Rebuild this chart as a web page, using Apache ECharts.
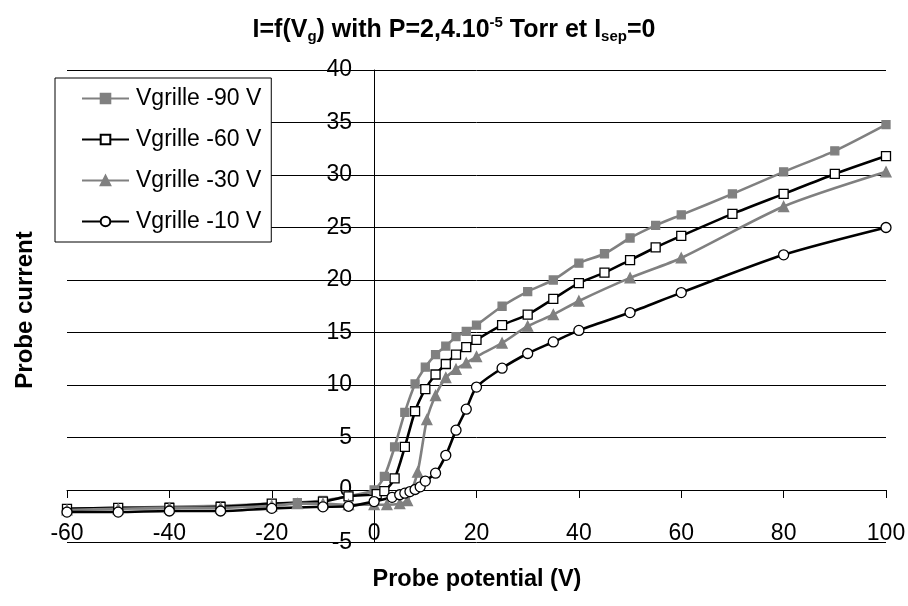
<!DOCTYPE html>
<html>
<head>
<meta charset="utf-8">
<script src="https://cdn.jsdelivr.net/npm/echarts@6/dist/echarts.min.js"></script>
<style>
html,body{margin:0;padding:0;background:#fff;}
#chart{width:908px;height:606px;}
</style>
</head>
<body>
<div id="chart"></div>
<script>
// ---- data ----
var seriesNames = ['Vgrille -90 V', 'Vgrille -60 V', 'Vgrille -30 V', 'Vgrille -10 V'];

var x90 = [-60,-50,-40,-30,-20,-15,-10,-5,0,2,4,6,8,10,12,14,16,18,20,25,30,35,40,45,50,55,60,70,80,90,100];
var y90 = [-1.8,-1.7,-1.6,-1.5,-1.3,-1.2,-1.0,-0.6,0.0,1.3,4.1,7.4,10.1,11.7,12.9,13.7,14.6,15.1,15.7,17.5,18.9,20.0,21.6,22.5,24.0,25.2,26.2,28.2,30.3,32.3,34.8];

var x60 = [-60,-50,-40,-30,-20,-10,-5,0.5,2,4,6,8,10,12,14,16,18,20,25,30,35,40,45,50,55,60,70,80,90,100];
var y60 = [-1.8,-1.7,-1.7,-1.6,-1.3,-1.1,-0.6,-0.4,-0.1,1.1,4.1,7.5,9.6,11.0,12.0,12.9,13.6,14.3,15.7,16.7,18.2,19.7,20.7,21.9,23.1,24.2,26.3,28.2,30.1,31.8];

var x30 = [-60,-50,-40,-30,-20,-15,-10,-5,0,2.5,5,6.5,8.5,10.3,12,14,16,18,20,25,30,35,40,50,60,80,100];
var y30 = [-1.9,-1.8,-1.7,-1.7,-1.5,-1.3,-1.3,-1.4,-1.4,-1.4,-1.3,-1.0,1.7,6.7,9.0,10.7,11.5,12.1,12.7,14.0,15.6,16.7,18.0,20.2,22.1,27.0,30.3];

var x10 = [-60,-50,-40,-30,-20,-10,-5,0,3.5,5,6,7,8,9,10,12,14,16,18,20,25,30,35,40,50,60,80,100];
var y10 = [-2.1,-2.1,-2.0,-2.0,-1.75,-1.6,-1.55,-1.1,-0.7,-0.45,-0.3,-0.15,0.05,0.3,0.85,1.6,3.3,5.7,7.7,9.8,11.6,13.0,14.1,15.2,16.9,18.8,22.4,25.0];

var xTicks = [-60,-40,-20,0,20,40,60,80,100];
var yTicks = [-5,0,5,10,15,20,25,30,35,40];

function zip(xs, ys){ return xs.map(function(x,i){ return [x, ys[i]]; }); }

var GRAY = '#808080';
var FONT = 'Liberation Sans, Arial, sans-serif';

// plot area
var G = {left: 67, right: 22, top: 70, bottom: 63.5};
var W = 908, H = 606;
var XMIN = -60, XMAX = 100, YMIN = -5, YMAX = 40;
var plotW = W - G.left - G.right, plotH = H - G.top - G.bottom;
// axes cross at zero: shift each axis from its default edge to the zero line
var yAxisOffset = -((0 - XMIN) / (XMAX - XMIN) * plotW);
var xAxisOffset = -((0 - YMIN) / (YMAX - YMIN) * plotH);

var chart = echarts.init(document.getElementById('chart'), null, {renderer:'canvas'});

function mkSeries(name, data, lineColor, symbol, size, fill, border){
  return {
    name: name, type: 'line', data: data, smooth: 0.25,
    symbol: symbol, symbolSize: size, showSymbol: true,
    lineStyle: {color: lineColor, width: 2.6},
    itemStyle: {color: fill, borderColor: border, borderWidth: 1.3},
    emphasis: {disabled: true},
    z: 3
  };
}

chart.setOption({
  animation: false,
  backgroundColor: '#fff',
  title: {
    left: 'center', top: 8,
    text: '{a|I=f(V}{s|g}{a|) with P=2,4.10}{p|-5}{a| Torr et I}{s|sep}{a|=0}',
    textStyle: {
      rich: {
        a: {fontFamily: FONT, fontWeight: 'bold', fontSize: 25, color: '#000', lineHeight: 34, verticalAlign: 'middle'},
        s: {fontFamily: FONT, fontWeight: 'bold', fontSize: 15, color: '#000', lineHeight: 34, verticalAlign: 'bottom', padding: [0,0,3,0]},
        p: {fontFamily: FONT, fontWeight: 'bold', fontSize: 15, color: '#000', lineHeight: 34, verticalAlign: 'top', padding: [2,0,0,0]}
      }
    }
  },
  grid: {left: G.left, right: G.right, top: G.top, bottom: G.bottom, containLabel: false, outerBoundsMode: 'none'},
  legend: {
    orient: 'vertical', left: 55, top: 78,
    data: seriesNames,
    backgroundColor: '#fff', borderColor: '#000', borderWidth: 1, borderRadius: 0,
    padding: [9, 10, 9, 26], itemGap: 18, itemWidth: 47, itemHeight: 12,
    textStyle: {fontFamily: FONT, fontSize: 23, color: '#000', padding: [0,0,0,2]}
  },
  xAxis: {
    type: 'value', min: XMIN, max: XMAX, interval: 20,
    offset: xAxisOffset,
    axisLine: {onZero: false, lineStyle: {color: '#000', width: 1}},
    axisTick: {show: true, inside: false, length: 8, lineStyle: {color: '#000'}},
    axisLabel: {margin: 32, fontFamily: FONT, fontSize: 23, color: '#000', hideOverlap: false,
      formatter: function(v){ return xTicks.indexOf(v) >= 0 ? String(v) : ''; }},
    splitLine: {show: false}
  },
  yAxis: {
    type: 'value', min: YMIN, max: YMAX, interval: 5,
    offset: yAxisOffset,
    axisLine: {onZero: false, lineStyle: {color: '#000', width: 1}},
    axisTick: {show: false},
    axisLabel: {margin: 22, fontFamily: FONT, fontSize: 23, color: '#000', hideOverlap: false,
      formatter: function(v){ return yTicks.indexOf(v) >= 0 ? String(v) : ''; }},
    splitLine: {show: true, lineStyle: {color: '#000', width: 1}}
  },
  graphic: [
    {type: 'text', x: 25, y: 310, rotation: Math.PI/2,
     style: {text: 'Probe current', fontFamily: FONT, fontWeight: 'bold', fontSize: 24, fill: '#000', align: 'center', verticalAlign: 'middle'}},
    {type: 'text', x: 477, y: 580,
     style: {text: 'Probe potential (V)', fontFamily: FONT, fontWeight: 'bold', fontSize: 23.5, fill: '#000', align: 'center', verticalAlign: 'middle'}}
  ],
  series: [
    mkSeries(seriesNames[0], zip(x90, y90), GRAY, 'rect', 8, GRAY, GRAY),
    mkSeries(seriesNames[1], zip(x60, y60), '#000', 'rect', 9, '#fff', '#000'),
    mkSeries(seriesNames[2], zip(x30, y30), GRAY, 'triangle', 10, GRAY, GRAY),
    mkSeries(seriesNames[3], zip(x10, y10), '#000', 'circle', 10, '#fff', '#000')
  ]
});
</script>
</body>
</html>
